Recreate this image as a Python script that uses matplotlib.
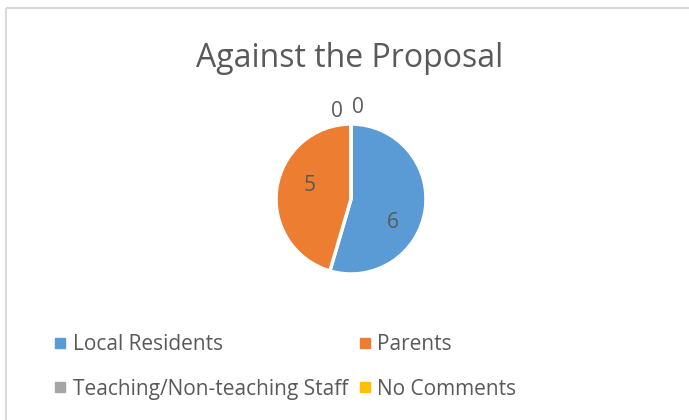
import matplotlib
matplotlib.use("Agg")
import matplotlib.pyplot as plt
from matplotlib.lines import Line2D
import numpy as np

categories = ["Local Residents", "Parents", "Teaching/Non-teaching Staff", "No Comments"]
values = [6, 5, 0, 0]
colors = ["#5B9BD5", "#ED7D31", "#A5A5A5", "#FFC000"]
title = "Against the Proposal"

W, H = 689, 420
fig = plt.figure(figsize=(W / 100, H / 100), dpi=100)
ax = fig.add_axes([0, 0, 1, 1])

font = "Open Sans"
txt = "#595959"

cx, cy, r = 351, H - 199, 75
wedges, _ = ax.pie(values, colors=colors, startangle=90, counterclock=False,
                   center=(cx, cy), radius=r, frame=True,
                   wedgeprops=dict(edgecolor="white", linewidth=2.5))
ax.set_xlim(0, W)
ax.set_ylim(0, H)
ax.set_aspect("equal")
ax.axis("off")

# border (top and left visible)
ax.plot([6, 6], [0, H - 8], color="#D9D9D9", lw=1.5, solid_capstyle="butt")
ax.plot([6, W], [H - 8, H - 8], color="#D9D9D9", lw=1.5, solid_capstyle="butt")

lab_fs = 15
half_digit = 0.357 * lab_fs * 100 / 72 + 3
zero_idx = 0
for w, v in zip(wedges, values):
    if v > 0:
        ang = np.deg2rad((w.theta1 + w.theta2) / 2 - 16)
        d = 0.61 * r
        x, y = cx + d * np.cos(ang), cy + d * np.sin(ang)
    else:
        ang = np.deg2rad(w.theta1)
        offs = [-14, 7][zero_idx]
        x, y = cx + 1.28 * r * np.cos(ang) + offs, cy + 1.28 * r * np.sin(ang) - [4, 0][zero_idx]
        zero_idx += 1
    ax.text(x, y - half_digit, str(v), ha="center", va="baseline",
            fontsize=lab_fs, color=txt, family=font)

fig.text(350 / W, 1 - 67 / H, title, ha="center", va="baseline",
         fontsize=23, color=txt, family=font)

handles = [Line2D([], [], marker="s", linestyle="none", markersize=6.5,
                  markerfacecolor=c, markeredgecolor=c) for c in colors]
order = [0, 2, 1, 3]  # row-major filling for a 2-column legend
leg = fig.legend([handles[i] for i in order], [categories[i] for i in order],
                 ncol=2, loc="upper left",
                 bbox_to_anchor=(54 / W, 1 - 334 / H), frameon=False,
                 prop=dict(family=font, size=15), labelcolor=txt,
                 handlelength=0.6, handletextpad=0.3, columnspacing=0.5,
                 labelspacing=1.14, borderpad=0, borderaxespad=0)

fig.savefig("out.png", dpi=100)
